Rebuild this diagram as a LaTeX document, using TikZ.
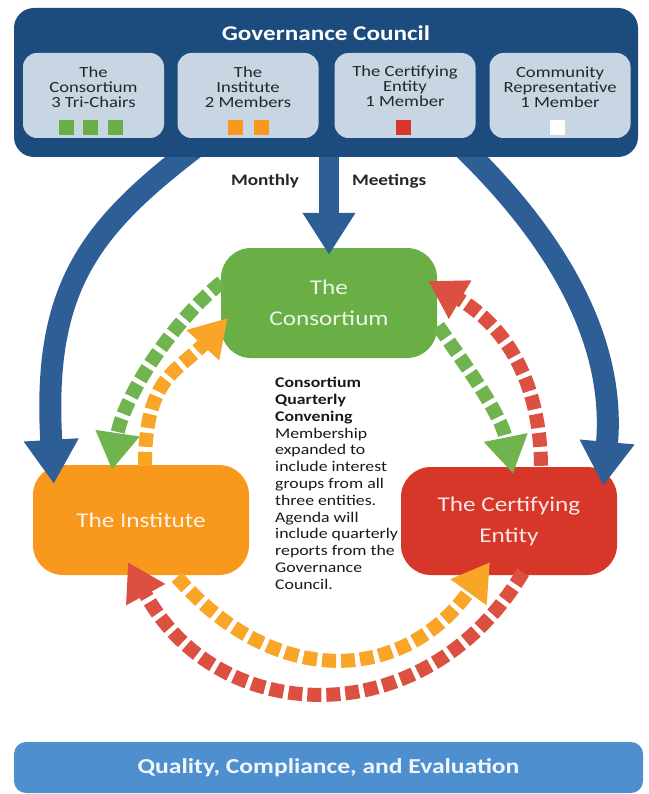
\documentclass[tikz,border=0pt]{standalone}
\usepackage{fontspec}
\setmainfont{Carlito}[FakeStretch=1.2]
\usetikzlibrary{arrows.meta,calc}

\definecolor{govblue}{RGB}{28,75,125}
\definecolor{membergray}{RGB}{200,213,226}
\definecolor{arcblue}{RGB}{46,94,150}
\definecolor{consgreen}{RGB}{106,175,69}
\definecolor{instorange}{RGB}{248,152,29}
\definecolor{certred}{RGB}{215,55,40}
\definecolor{dashgreen}{RGB}{112,180,80}
\definecolor{dashorange}{RGB}{248,165,40}
\definecolor{dashred}{RGB}{220,80,65}
\definecolor{qcblue}{RGB}{78,143,208}

\begin{document}
\begin{tikzpicture}[x=1pt, y=-1pt,
  hub/.style={rounded corners=30pt, minimum width=216pt, minimum height=110pt, inner sep=0pt, align=center, font=\fontsize{21}{31}\selectfont},
  govbox/.style={fill=govblue, rounded corners=20pt, minimum width=624pt, minimum height=149pt},
  member/.style={fill=membergray, rounded corners=14pt, minimum width=141pt, minimum height=85pt},
  membertext/.style={align=center, inner sep=0pt, text=black!85, font=\fontsize{15.5}{15}\selectfont},
  seat/.style={minimum size=15pt, inner sep=0pt},
  bluearc/.style={draw=arcblue, color=arcblue, line width=22pt, -{Triangle[width=52pt,length=44pt]}},
  dashlink/.style={line width=14pt, dash pattern=on 14pt off 5pt, -{Triangle[width=42pt,length=37pt]}}]
\useasboundingbox (0,0) rectangle (648,794);

% the three entities
\node[hub, fill=consgreen, text=consgreen!12!white] (cons) at (329,303) {The\\Consortium};
\node[hub, fill=instorange, text=instorange!12!white] (inst) at (141,520) {The Institute};
\node[hub, fill=certred, text=certred!12!white, minimum height=108pt] (cert) at (509,521) {The Certifying\\Entity};

% council arcs, drawn before the council box
\coordinate (lfoot) at (205,140);
\coordinate (rfoot) at (455,140);
\draw[bluearc] (lfoot) .. controls (92,225) and (42,284) .. ($(inst.north west)+(21,19)$);
\draw[bluearc] (rfoot) .. controls (530,211) and (618,320) .. ($(cert.north east)+(-14,19)$);

% governance council
\node[govbox] (gov) at (326,82.5) {};
\node[text=white, font=\fontsize{21}{21}\selectfont\bfseries] (govtitle) at (326,33) {Governance Council};
\node[member] (mcons) at (93.5,95.5) {};
\node[member] (minst) at (248,95.5) {};
\node[member] (mcert) at (405,95.5) {};
\node[member] (mcomm) at (560,95.5) {};
\node[membertext] at (93.5,87) {The\\Consortium\\3 Tri-Chairs};
\node[membertext] at (248,87) {The\\Institute\\2 Members};
\node[membertext] at (405,86) {The Certifying\\Entity\\1 Member};
\node[membertext] at (560,87) {Community\\Representative\\1 Member};
\node[seat, fill=consgreen] at (66,128) {};
\node[seat, fill=consgreen] at (90.5,128) {};
\node[seat, fill=consgreen] at (115,128) {};
\node[seat, fill=instorange] at (235.5,128) {};
\node[seat, fill=instorange] at (261,128) {};
\node[seat, fill=certred] at (403,128) {};
\node[seat, fill=white] at (557,128) {};

% monthly meetings
\draw[arcblue, line width=20pt, -{Triangle[width=50pt,length=42pt]}] (gov.south -| cons.north) -- ($(cons.north)+(0,7)$)
  node[pos=0.25, left=20pt, inner sep=0pt, text=black!85, font=\fontsize{16}{16}\selectfont\bfseries] {Monthly}
  node[pos=0.25, right=13pt, inner sep=0pt, text=black!85, font=\fontsize{16}{16}\selectfont\bfseries] {Meetings};

% exchanges between the entities
\draw[dashlink, color=dashgreen] ($(cons.west)+(1,-21)$) .. controls (169,325) and (122.5,400) .. ($(inst.north)+(-29,5)$);
\draw[dashlink, color=dashorange] ($(inst.north)+(4,1)$) .. controls (145,376) and (178,372) .. ($(cons.west)+(7,15)$);
\draw[dashlink, color=dashred] ($(cert.north)+(32,-1)$) .. controls (540,380) and (505,326) .. ($(cons.east)+(-9,-22)$);
\draw[dashlink, color=dashgreen] ($(cons.east)+(1,23)$) .. controls (466,366) and (501,414) .. ($(cert.north)+(4,7)$);
\draw[dashlink, color=dashorange] ($(inst.south)+(36,2)$) .. controls (276,689.5) and (403,683.5) .. ($(cert.south)+(-19,-13)$);
\draw[dashlink, color=dashred] ($(cert.south)+(14,-3)$) .. controls (426,735.4) and (219,729.2) .. ($(inst.south)+(-13,-13)$);

% quarterly convening
\node[anchor=north west, inner sep=0pt, align=left, text=black!90, font=\fontsize{14.8}{16.8}\selectfont] (convening) at (275,377)
  {\textbf{Consortium}\\\textbf{Quarterly}\\\textbf{Convening}\\Membership\\expanded to\\include interest\\groups from all\\three entities.\\Agenda will\\include quarterly\\reports from the\\Governance\\Council.};

\node[fill=qcblue, rounded corners=12pt, minimum width=629pt, minimum height=51pt, text=qcblue!8!white, font=\fontsize{21.3}{21.3}\selectfont\bfseries] (qce) at (328.5,767.5) {Quality, Compliance, and Evaluation};
\end{tikzpicture}
\end{document}
